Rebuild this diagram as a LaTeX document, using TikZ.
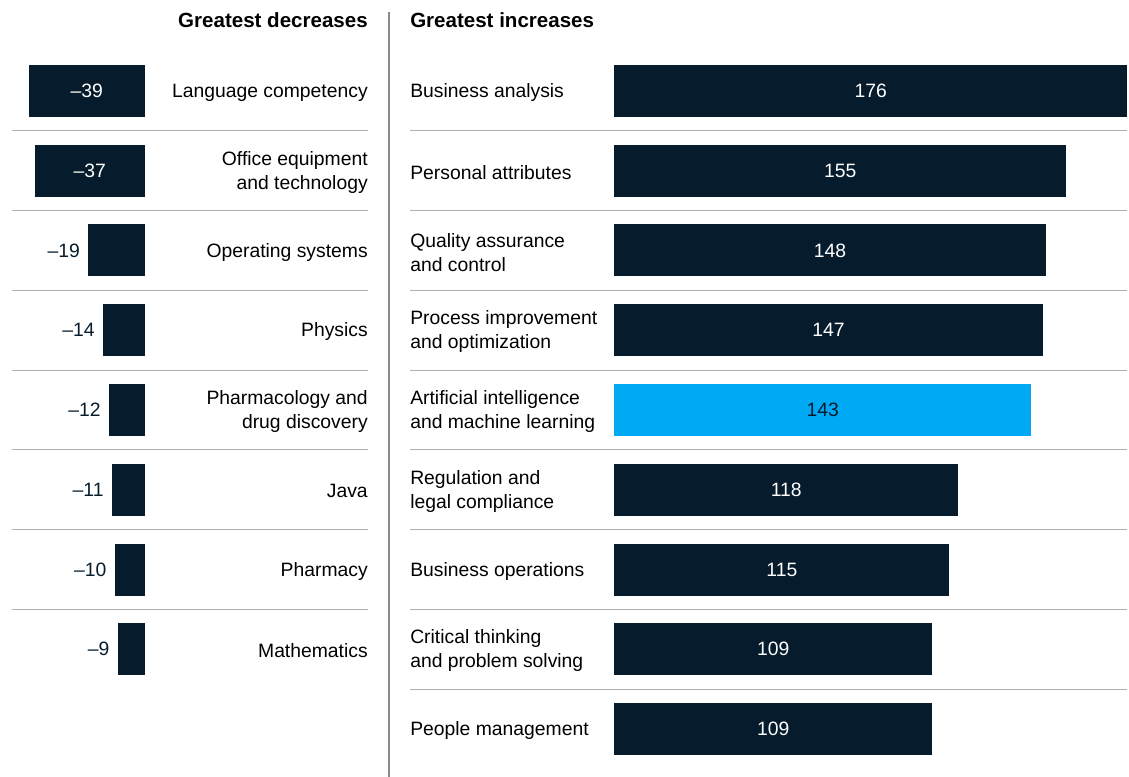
\documentclass[tikz,border=0pt]{standalone}
\usepackage{fontspec}
\setmainfont{Liberation Sans}
\usetikzlibrary{positioning}
\definecolor{navy}{HTML}{061C2C}
\definecolor{skyblue}{HTML}{00A9F4}
\definecolor{rulegray}{HTML}{B0B0B0}
\definecolor{divgray}{HTML}{8A8A8A}

\begin{document}
\begin{tikzpicture}[x=0.75pt,y=-0.75pt,
    font=\fontsize{14.5}{18}\selectfont,
    bar/.style={draw=none, inner sep=0pt, minimum height=39pt},
    val/.style={inner sep=0pt},
    lbl/.style={inner sep=0pt, yshift=-1.2pt},
    head/.style={inner sep=0pt, font=\fontsize{15.4}{18}\selectfont\bfseries},
    sep/.style={draw=rulegray, line width=0.75pt}]
  \useasboundingbox (0,0) rectangle (1129,777);
  % headers and divider
  \node[head, anchor=base east] (dechead) at (368,27.5) {Greatest decreases};
  \node[head, anchor=base west] (inchead) at (410,27.5) {Greatest increases};
  \coordinate (divtop) at (389,12);
  \coordinate (divbot) at (389,777);
  \draw[divgray, line width=1pt] (divtop) -- (divbot);
  % left panel: decreases
  \foreach \v/\lab [count=\i] in {39/Language competency, 37/{Office equipment\\and technology},
      19/Operating systems, 14/Physics, 12/{Pharmacology and\\drug discovery},
      11/Java, 10/Pharmacy, 9/Mathematics}{
    \pgfmathsetmacro{\yc}{91+79.75*(\i-1)}
    \pgfmathsetmacro{\w}{2.97*\v*0.75}
    \node[bar, fill=navy, anchor=east, minimum width=\w pt] (dec\i) at (145,\yc) {};
    \ifnum\v>30
      \node[val, text=white] (decv\i) at (dec\i) {–\v};
    \else
      \node[val, text=navy, left=6pt of dec\i] (decv\i) {–\v};
    \fi
    \node[lbl, align=right, anchor=east] (decl\i) at (368,\yc) {\lab};
  }
  \foreach \i in {1,...,7}{
    \pgfmathsetmacro{\ys}{131+79.75*(\i-1)}
    \coordinate (ls\i) at (12,\ys);
    \coordinate (le\i) at (368,\ys);
    \draw[sep] (ls\i) -- (le\i);
  }
  % right panel: increases
  \foreach \v/\col/\tcol/\lab [count=\i] in {176/navy/white/Business analysis,
      155/navy/white/Personal attributes,
      148/navy/white/{Quality assurance\\and control},
      147/navy/white/{Process improvement\\and optimization},
      143/skyblue/navy/{Artificial intelligence\\and machine learning},
      118/navy/white/{Regulation and\\legal compliance},
      115/navy/white/Business operations,
      109/navy/white/{Critical thinking\\and problem solving},
      109/navy/white/People management}{
    \pgfmathsetmacro{\yc}{91+79.75*(\i-1)}
    \pgfmathsetmacro{\w}{2.915*\v*0.75}
    \node[bar, fill=\col, anchor=west, minimum width=\w pt] (inc\i) at (614,\yc) {};
    \node[val, text=\tcol] (incv\i) at (inc\i) {\v};
    \node[lbl, align=left, anchor=west] (incl\i) at (410,\yc) {\lab};
  }
  \foreach \i in {1,...,8}{
    \pgfmathsetmacro{\ys}{131+79.75*(\i-1)}
    \coordinate (rs\i) at (410,\ys);
    \coordinate (re\i) at (1127,\ys);
    \draw[sep] (rs\i) -- (re\i);
  }
\end{tikzpicture}
\end{document}
